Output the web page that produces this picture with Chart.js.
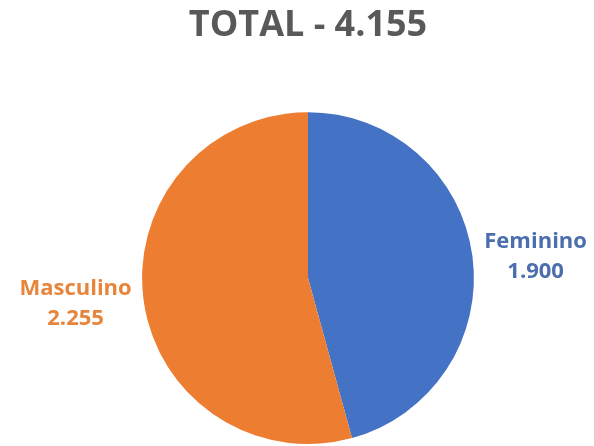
<!DOCTYPE html>
<html>
<head>
<meta charset="utf-8">
<script src="https://cdn.jsdelivr.net/npm/chart.js@4"></script>
<style>
  html, body { margin: 0; padding: 0; background: #fff; }
  #wrap { width: 594px; height: 446px; }
</style>
</head>
<body>
<div id="wrap"><canvas id="graph"></canvas></div>
<script>
// Dados do gráfico
var categorias = ['Feminino', 'Masculino'];
var valores = [1900, 2255];
var cores = ['#4472C4', '#ED7D31'];
var coresTexto = ['#4A6EAE', '#E8853C'];

var total = valores.reduce(function (a, b) { return a + b; }, 0);

function formatar(v) {
    return v.toLocaleString('pt-BR');
}

// Rótulos fora da fatia: nome em cima, valor embaixo
var rotulos = {
    id: 'rotulos',
    afterDatasetsDraw: function (chart) {
        var ctx = chart.ctx;
        var meta = chart.getDatasetMeta(0);
        ctx.save();
        ctx.font = 'bold 22px "Open Sans"';
        ctx.textBaseline = 'middle';
        meta.data.forEach(function (arc, i) {
            var p = arc.getProps(['x', 'y', 'startAngle', 'endAngle', 'outerRadius']);
            var meio = (p.startAngle + p.endAngle) / 2;
            var r = p.outerRadius + 12;
            var x = p.x + Math.cos(meio) * r;
            var y = p.y + Math.sin(meio) * r + 2;
            var largura = Math.max(ctx.measureText(categorias[i]).width,
                                   ctx.measureText(formatar(valores[i])).width);
            var cx = Math.cos(meio) >= 0 ? x + largura / 2 : x - largura / 2;
            ctx.fillStyle = coresTexto[i];
            ctx.textAlign = 'center';
            ctx.fillText(categorias[i], cx, y - 15);
            ctx.fillText(formatar(valores[i]), cx, y + 15);
        });
        ctx.restore();
    }
};

var chart = new Chart(document.getElementById('graph'), {
    type: 'pie',
    data: {
        labels: categorias,
        datasets: [{
            data: valores,
            backgroundColor: cores,
            borderWidth: 0
        }]
    },
    options: {
        responsive: true,
        maintainAspectRatio: false,
        animation: false,
        layout: { padding: { left: 22, right: 0, top: 0, bottom: 2 } },
        plugins: {
            legend: { display: false },
            tooltip: { enabled: false },
            title: {
                display: true,
                text: 'TOTAL - ' + formatar(total),
                color: '#595959',
                font: { family: 'Open Sans', size: 36, weight: 'bold' },
                padding: { top: 4, bottom: 65 }
            }
        }
    },
    plugins: [rotulos]
});
</script>
</body>
</html>
